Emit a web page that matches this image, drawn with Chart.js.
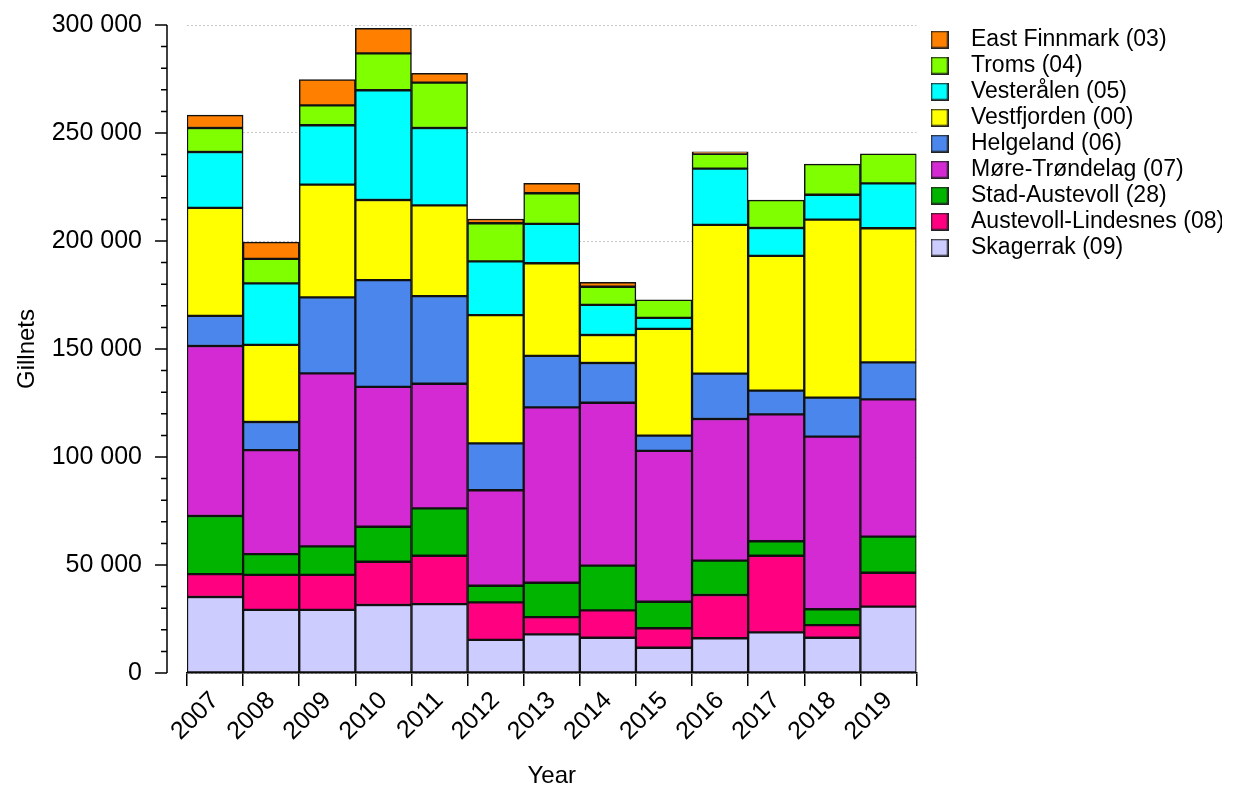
<!DOCTYPE html>
<html lang="en">
<head>
  <meta charset="utf-8">
  <title>Gillnets by area</title>
  <script src="https://cdn.jsdelivr.net/npm/chart.js@4.4.0/dist/chart.umd.min.js"></script>
  <style>
    html, body { margin: 0; padding: 0; background: #fff; }
    #wrap { width: 1236px; height: 791px; }
  </style>
</head>
<body>
  <div id="wrap"><canvas id="myChart"></canvas></div>

  <script>
    const years = ['2007', '2008', '2009', '2010', '2011', '2012', '2013', '2014', '2015', '2016', '2017', '2018', '2019'];

    // one array per area, bottom of the stack first
    const skagerrak          = [35200, 29200, 29200, 31500, 31900, 15300, 17900, 16300, 11700, 16100, 18800, 16300, 30700];
    const austevollLindesnes = [10600, 16200, 16200, 20000, 22400, 17400,  8000, 12700,  9000, 20000, 35500,  5900, 15700];
    const stadAustevoll      = [26900,  9600, 13200, 16200, 21900,  7700, 15900, 20700, 12300, 15900,  6700,  7300, 16700];
    const moreTrondelag      = [78700, 48200, 80100, 64800, 57700, 44200, 81200, 75400, 69800, 65600, 58700, 79900, 63600];
    const helgeland          = [13900, 13000, 35200, 49400, 40600, 21700, 23800, 18400,  7100, 21000, 11000, 18100, 17100];
    const vestfjorden        = [50000, 35700, 52200, 37100, 42000, 59400, 42900, 13000, 49400, 68900, 62400, 82400, 62100];
    const vesteralen         = [25900, 28500, 27500, 50800, 35800, 24900, 18200, 13900,  5100, 26000, 12900, 11500, 20800];
    const troms              = [11100, 11300,  9200, 17100, 21000, 17600, 14200,  8400,  8400,  6800, 12900, 14200, 13600];
    const eastFinnmark       = [ 6000,  7800, 11900, 11600,  4300,  2000,  4600,  2100,     0,  1000,     0,     0,     0];

    const yMax = 300000;
    const majorStep = 50000;
    const minorStep = 10000;

    const series = [
      { label: 'Skagerrak (09)', data: skagerrak, color: '#CCCCFF' },
      { label: 'Austevoll-Lindesnes (08)', data: austevollLindesnes, color: '#FF0080' },
      { label: 'Stad-Austevoll (28)', data: stadAustevoll, color: '#00B400' },
      { label: 'Møre-Trøndelag (07)', data: moreTrondelag, color: '#D42AD4' },
      { label: 'Helgeland (06)', data: helgeland, color: '#4A86EB' },
      { label: 'Vestfjorden (00)', data: vestfjorden, color: '#FFFF00' },
      { label: 'Vesterålen (05)', data: vesteralen, color: '#00FFFF' },
      { label: 'Troms (04)', data: troms, color: '#80FF00' },
      { label: 'East Finnmark (03)', data: eastFinnmark, color: '#FF8000' }
    ];

    // little filled squares used as legend markers
    function swatch(color) {
      const c = document.createElement('canvas');
      c.width = 18;
      c.height = 18;
      const g = c.getContext('2d');
      g.fillStyle = color;
      g.fillRect(0, 0, 18, 18);
      g.strokeStyle = '#222';
      g.lineWidth = 1.5;
      g.strokeRect(0.75, 0.75, 16.5, 16.5);
      return c;
    }
    const swatches = series.map(s => swatch(s.color));

    function spaced(v) {
      return String(v).replace(/\B(?=(\d{3})+(?!\d))/g, ' ');
    }

    // y axis sits a bit left of the first bar, with minor ticks
    const yAxisLine = {
      id: 'yAxisLine',
      afterDraw(chart) {
        const y = chart.scales.y;
        const ctx = chart.ctx;
        const x0 = chart.chartArea.left - 20;
        ctx.save();
        ctx.strokeStyle = '#000';
        ctx.lineWidth = 1.5;
        ctx.beginPath();
        ctx.moveTo(x0, y.getPixelForValue(yMax));
        ctx.lineTo(x0, y.getPixelForValue(0));
        for (let v = 0; v <= yMax; v += minorStep) {
          const py = y.getPixelForValue(v);
          const len = v % majorStep === 0 ? 12 : 6;
          ctx.moveTo(x0 - len, py);
          ctx.lineTo(x0, py);
        }
        ctx.stroke();
        ctx.restore();
      }
    };

    Chart.defaults.font.family = "'Liberation Sans', Arial, sans-serif";
    Chart.defaults.color = '#000';

    const data = {
      labels: years,
      datasets: series.map(s => ({
        label: s.label,
        data: s.data,
        backgroundColor: s.color,
        borderColor: '#111',
        borderWidth: 1.5,
        borderSkipped: false,
        barPercentage: 1,
        categoryPercentage: 1
      }))
    };

    const config = {
      type: 'bar',
      data: data,
      options: {
        responsive: true,
        maintainAspectRatio: false,
        animation: false,
        layout: {
          padding: { top: 25, right: 14, bottom: 0, left: 0 }
        },
        scales: {
          x: {
            stacked: true,
            afterFit(scale) { scale.height = 118; },
            border: { display: true, color: '#000', width: 1.5 },
            grid: {
              display: true,
              drawOnChartArea: false,
              drawTicks: true,
              tickLength: 13,
              color: '#000',
              lineWidth: 1.5,
              offset: true
            },
            ticks: {
              font: { size: 25 },
              color: '#000',
              maxRotation: 45,
              minRotation: 45,
              autoSkip: false,
              padding: 0
            },
            title: {
              display: true,
              text: 'Year',
              font: { size: 24 },
              color: '#000',
              padding: { top: 0, bottom: 0 }
            }
          },
          y: {
            stacked: true,
            min: 0,
            max: yMax,
            afterFit(scale) { scale.width = 187; },
            border: { display: false, dash: [2, 2] },
            grid: {
              color: '#c8c8c8',
              lineWidth: 1,
              drawTicks: true,
              tickLength: 43,
              tickColor: 'rgba(0,0,0,0)'
            },
            ticks: {
              stepSize: majorStep,
              font: { size: 25 },
              color: '#000',
              padding: 2,
              callback: v => spaced(v)
            },
            title: {
              display: true,
              text: 'Gillnets',
              font: { size: 24 },
              color: '#000',
              padding: { top: 13, bottom: 0 }
            }
          }
        },
        plugins: {
          tooltip: { enabled: false },
          legend: {
            display: true,
            position: 'right',
            align: 'start',
            fullSize: false,
            reverse: true,
            labels: {
              usePointStyle: true,
              pointStyleWidth: 40,
              boxHeight: 18,
              padding: 3,
              color: '#000',
              font: { size: 23 },
              generateLabels(chart) {
                const items = Chart.defaults.plugins.legend.labels.generateLabels(chart);
                items.forEach(it => { it.pointStyle = swatches[it.datasetIndex]; });
                return items;
              }
            }
          }
        }
      },
      plugins: [yAxisLine]
    };

    const myChart = new Chart(document.getElementById('myChart'), config);
  </script>
</body>
</html>
